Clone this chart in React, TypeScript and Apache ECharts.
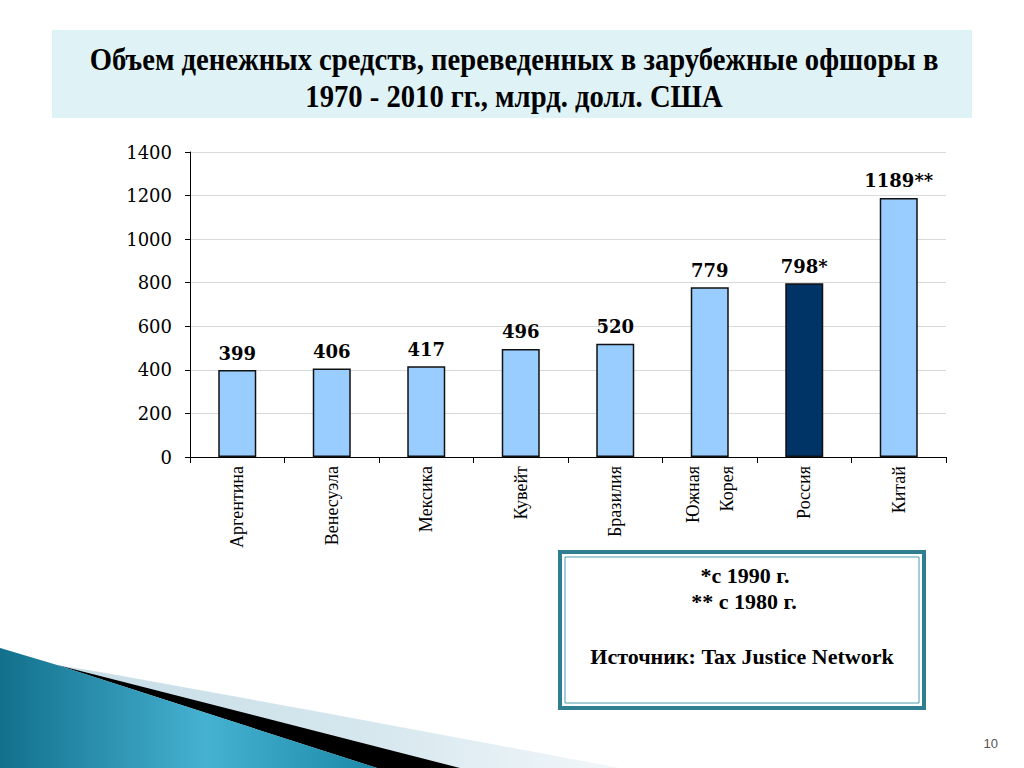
import { useEffect, useRef } from "react";
import * as echarts from "echarts";

const categories = ["Аргентина", "Венесуэла", "Мексика", "Кувейт", "Бразилия", "Южная\nКорея", "Россия", "Китай"];
const values = [399, 406, 417, 496, 520, 779, 798, 1189];
const valueNotes = ["", "", "", "", "", "", "*", "**"];
const highlighted = "Россия";
const yMin = 0;
const yMax = 1400;
const yStep = 200;
const titleLines = [
  "Объем денежных средств, переведенных в зарубежные офшоры в",
  "1970 - 2010 гг., млрд. долл. США",
];
const noteLines = ["*с 1990 г.", "** с 1980 г.", "Источник: Tax Justice Network"];
const pageNumber = "10";

const serifText = (text: string, x: number, y: number, size: number, extra: any = {}) => ({
  type: "text",
  x,
  y,
  ...extra,
  style: {
    text,
    fontFamily: "Liberation Serif",
    fontWeight: "bold",
    fontSize: size,
    fill: "#000",
    textAlign: "center",
    textVerticalAlign: "middle",
  },
});

export default function App() {
  const ref = useRef<HTMLDivElement>(null);
  useEffect(() => {
    if (!ref.current) return;
    const chart = echarts.init(ref.current, null, { renderer: "svg" });
    const option = {
      animation: false,
      backgroundColor: "#ffffff",
      grid: { left: 190, right: 78, top: 152, bottom: 311, containLabel: false },
      xAxis: {
        type: "category",
        data: categories,
        axisLine: { lineStyle: { color: "#000", width: 1 } },
        axisTick: { show: true, length: 6, lineStyle: { color: "#000" } },
        axisLabel: {
          rotate: 90,
          margin: 9,
          color: "#000",
          fontFamily: "Liberation Serif",
          fontSize: 18,
          lineHeight: 34,
          align: "right",
        },
      },
      yAxis: {
        type: "value",
        min: yMin,
        max: yMax,
        interval: yStep,
        axisLine: { show: true, lineStyle: { color: "#000", width: 1 } },
        axisTick: { show: true, length: 5, lineStyle: { color: "#000" } },
        splitLine: { lineStyle: { color: "#d9d9d9", width: 1 } },
        axisLabel: {
          color: "#000",
          fontFamily: "DejaVu Serif",
          fontSize: 18,
          margin: 18,
          formatter: (v: number) => String(v),
        },
      },
      series: [
        {
          type: "bar",
          barWidth: 38,
          data: values.map((v, i) => ({
            value: v,
            itemStyle: {
              color: categories[i] === highlighted ? "#003366" : "#99ccff",
              borderColor: "#111",
              borderWidth: 1.5,
            },
          })),
          label: {
            show: true,
            position: "top",
            distance: 8,
            color: "#000",
            fontFamily: "DejaVu Serif",
            fontWeight: "bold",
            fontSize: 18,
            formatter: (p: any) => `${values[p.dataIndex]}${valueNotes[p.dataIndex]}`,
          },
        },
      ],
      graphic: [
        {
          type: "rect",
          shape: { x: 52, y: 30, width: 920, height: 88 },
          style: { fill: "#dff3f6" },
          silent: true,
        },
        serifText(titleLines[0], 514, 59, 32, { scaleX: 0.895 }),
        serifText(titleLines[1], 514, 96, 32, { scaleX: 0.895 }),
        {
          type: "rect",
          shape: { x: 560, y: 552, width: 364, height: 156 },
          style: { fill: "#fff", stroke: "#2f7f90", lineWidth: 4 },
        },
        {
          type: "rect",
          shape: { x: 565, y: 557, width: 354, height: 146 },
          style: { fill: "none", stroke: "#4a9aaa", lineWidth: 1 },
        },
        serifText(noteLines[0], 745, 575, 22),
        serifText(noteLines[1], 744, 601, 22),
        serifText(noteLines[2], 742, 656, 22),
        {
          type: "polygon",
          shape: { points: [[0, 648], [57, 665], [100, 672], [320, 712], [620, 768], [0, 768]] },
          style: {
            fill: {
              type: "linear", x: 0, y: 0, x2: 1, y2: 0,
              colorStops: [
                { offset: 0, color: "#c4dbe5" },
                { offset: 0.6, color: "#d6e7ee" },
                { offset: 1, color: "#f2f7fa" },
              ],
            },
          },
        },
        {
          type: "polygon",
          shape: { points: [[57, 665], [460, 768], [377, 768]] },
          style: { fill: "#000" },
        },
        {
          type: "polygon",
          shape: { points: [[0, 648], [57, 665], [377, 768], [0, 768]] },
          style: {
            fill: {
              type: "linear", x: 0, y: 0, x2: 1, y2: 0,
              colorStops: [
                { offset: 0, color: "#12708c" },
                { offset: 0.55, color: "#46b2d2" },
                { offset: 1, color: "#1b88a8" },
              ],
            },
          },
        },
        {
          type: "text",
          x: 998,
          y: 743,
          style: { text: pageNumber, fontFamily: "Liberation Sans", fontSize: 13, fill: "#555", textAlign: "right", textVerticalAlign: "middle" },
        },
      ],
    };
    chart.setOption(option as any);
    return () => chart.dispose();
  }, []);
  return <div ref={ref} style={{ position: "fixed", left: 0, top: 0, width: 1024, height: 768 }} />;
}
